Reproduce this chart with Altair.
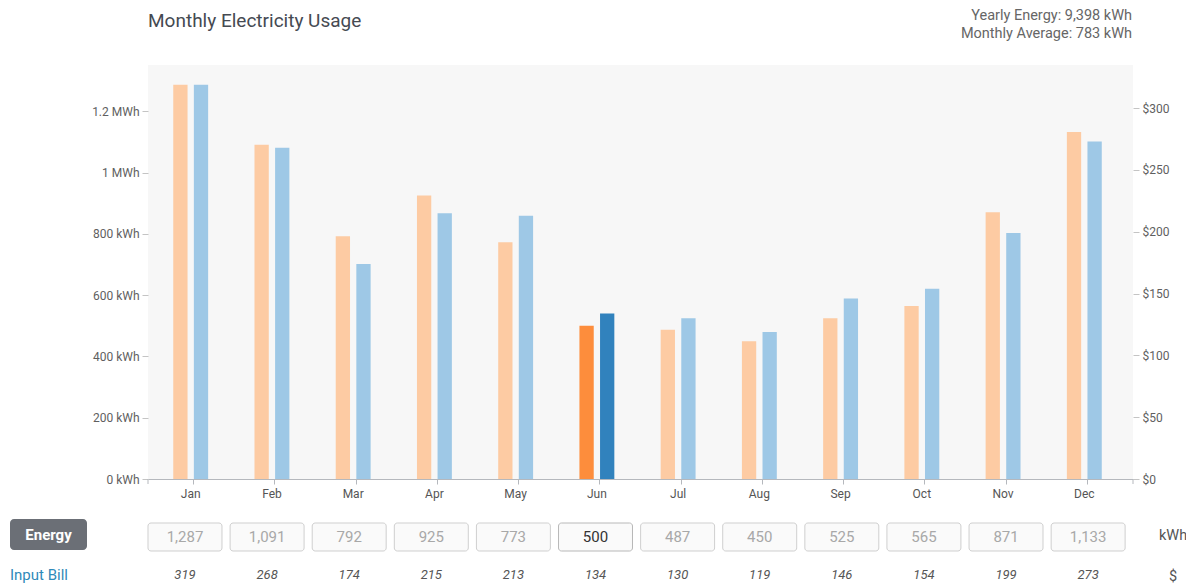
import altair as alt
import pandas as pd

months = ["Jan", "Feb", "Mar", "Apr", "May", "Jun", "Jul", "Aug", "Sep", "Oct", "Nov", "Dec"]
energy_kwh = [1287, 1091, 792, 925, 773, 500, 487, 450, 525, 565, 871, 1133]
bill_usd = [319, 268, 174, 215, 213, 134, 130, 119, 146, 154, 199, 273]
selected_month = "Jun"

title_text = "Monthly Electricity Usage"
yearly_text = "Yearly Energy: 9,398 kWh"
average_text = "Monthly Average: 783 kWh"
left_ticks = [0, 200, 400, 600, 800, 1000, 1200]
right_ticks = [0, 50, 100, 150, 200, 250, 300]

W, H = 985, 414
FONT = "Roboto"

df_e = pd.DataFrame({"month": months, "series": "Energy", "value": energy_kwh})
df_b = pd.DataFrame({"month": months, "series": "Bill", "value": bill_usd})
df_tab = pd.DataFrame({"month": months, "kwh": energy_kwh, "bill": bill_usd})

bar_scale = alt.Scale(type="band", domain=months, paddingInner=0.5704, paddingOuter=0.3477, align=0.447)
off_scale = alt.Scale(type="band", domain=["Energy", "Bill"], paddingInner=0.306, paddingOuter=0)
box_scale = alt.Scale(type="band", domain=months, paddingInner=0.099, paddingOuter=0.048, align=0)

x_axis = alt.Axis(title=None, labelAngle=0, bandPosition=0.586, domainColor="#b5b8bd",
                  tickColor="#b5b8bd", tickSize=5, labelPadding=4, labelColor="#555",
                  labelFontSize=12, labelFont=FONT, grid=False)

left_axis = alt.Axis(title=None, values=left_ticks, domain=False, grid=False, tickSize=6,
                     tickColor="#c4c4c4", labelPadding=3, labelColor="#5f5f5f", labelFontSize=12,
                     labelFont=FONT,
                     labelExpr="datum.value >= 1000 ? format(datum.value/1000, '~g') + ' MWh' : datum.value + ' kWh'")
right_axis = alt.Axis(title=None, orient="right", values=right_ticks, domain=False, grid=False,
                      tickSize=6, tickColor="#c4c4c4", labelPadding=3, labelColor="#5f5f5f",
                      labelFontSize=12, labelFont=FONT, labelExpr="'$' + datum.value")

is_sel = alt.datum.month == selected_month

energy_bars = alt.Chart(df_e).mark_bar().encode(
    x=alt.X("month:N", sort=months, scale=bar_scale, axis=x_axis),
    xOffset=alt.XOffset("series:N", scale=off_scale),
    y=alt.Y("value:Q", scale=alt.Scale(domain=[0, max(energy_kwh) * 1.05], nice=False), axis=left_axis),
    color=alt.condition(is_sel, alt.value("#fd8d3c"), alt.value("#fdcba3")),
)

bill_bars = alt.Chart(df_b).mark_bar().encode(
    x=alt.X("month:N", sort=months, scale=bar_scale, axis=None),
    xOffset=alt.XOffset("series:N", scale=off_scale),
    y=alt.Y("value:Q", scale=alt.Scale(domain=[0, max(bill_usd) * 1.05], nice=False), axis=right_axis),
    color=alt.condition(is_sel, alt.value("#3182bd"), alt.value("#9ec8e6")),
)

end_ticks = alt.Chart(pd.DataFrame({"p": [0, 1]})).mark_rule(color="#b5b8bd").encode(
    x=alt.X("p:Q", scale=alt.Scale(domain=[0, 1]), axis=None),
    y=alt.value(H), y2=alt.value(H + 5),
)

x_box = alt.X("month:N", sort=months, scale=box_scale, axis=None)
x_box_c = alt.X("month:N", sort=months, scale=box_scale, axis=None, bandPosition=0.5)

boxes = alt.Chart(df_tab).mark_rect(cornerRadius=3, fill="#fafafa", strokeWidth=1).encode(
    x=x_box, y=alt.value(458), y2=alt.value(486),
    stroke=alt.condition(is_sel, alt.value("#b8b8b8"), alt.value("#cfcfcf")),
)
box_text = alt.Chart(df_tab).mark_text(fontSize=15, font=FONT, baseline="middle").encode(
    x=x_box_c, y=alt.value(472),
    text=alt.Text("kwh:Q", format=","),
    color=alt.condition(is_sel, alt.value("#333333"), alt.value("#a8a8a8")),
)
bill_text = alt.Chart(df_tab).mark_text(fontSize=13, font=FONT, fontStyle="italic",
                                        baseline="middle", color="#555").encode(
    x=x_box_c, y=alt.value(510), text=alt.Text("bill:Q"),
)

def label(txt, x, y, **kw):
    return alt.Chart(pd.DataFrame({"t": [txt]})).mark_text(font=FONT, baseline="middle", **kw).encode(
        x=alt.value(x), y=alt.value(y), text="t:N")

title = label(title_text, 0, -44, align="left", fontSize=19, color="#454a52")
yearly = label(yearly_text, W - 1, -49, align="right", fontSize=14.5, color="#666")
average = label(average_text, W - 1, -31, align="right", fontSize=14.5, color="#666")

button = alt.Chart(pd.DataFrame({"t": ["Energy"]})).mark_rect(cornerRadius=4, color="#6b6f76").encode(
    x=alt.value(-138), x2=alt.value(-61), y=alt.value(454), y2=alt.value(485))
button_text = label("Energy", -99.5, 470, align="center", fontSize=15, fontWeight="bold", color="white")
input_bill = label("Input Bill", -138, 510, align="left", fontSize=15, color="#2f8ab9")
kwh_unit = label("kWh", 1011, 471, align="left", fontSize=14.5, color="#555")
usd_unit = label("$", 1025, 512, align="center", fontSize=14.5, color="#555")

chart = alt.layer(
    energy_bars, bill_bars, end_ticks, boxes, box_text, bill_text,
    title, yearly, average, button, button_text, input_bill, kwh_unit, usd_unit,
).resolve_scale(
    x="independent", y="independent"
).properties(
    width=W, height=H,
    autosize=alt.AutoSizeParams(type="none"),
    padding={"left": 140, "top": 57, "right": 53, "bottom": 108},
).configure(
    font=FONT
).configure_view(
    fill="#f7f7f7", stroke=None
)

chart.save("out.html", embed_options={"renderer": "svg", "actions": False})
